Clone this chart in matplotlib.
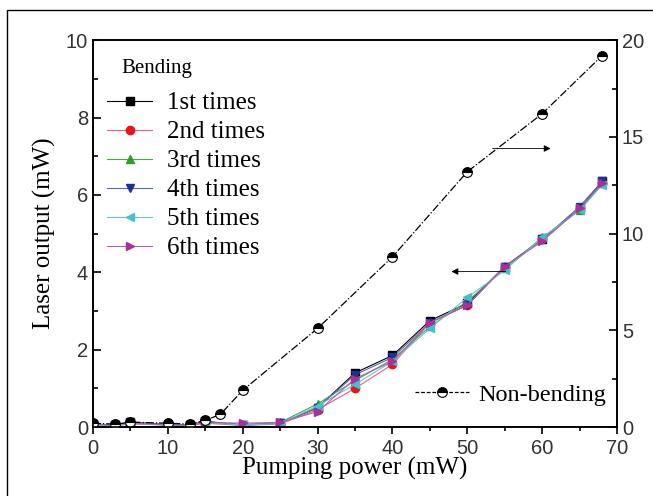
import matplotlib
matplotlib.use("Agg")
import matplotlib.pyplot as plt
from matplotlib.lines import Line2D
from matplotlib.patches import Rectangle

# bending runs (left axis, mW)
x_bend = [0, 3, 5, 10, 13, 15, 20, 25, 30, 35, 40, 45, 50, 55, 60, 65, 68]
run1 = [0.08, 0.05, 0.12, 0.06, 0.05, 0.15, 0.05, 0.10, 0.50, 1.40, 1.85, 2.75, 3.20, 4.15, 4.85, 5.65, 6.35]
run2 = [0.06, 0.04, 0.08, 0.05, 0.04, 0.10, 0.04, 0.08, 0.45, 1.00, 1.62, 2.70, 3.15, 4.15, 4.85, 5.65, 6.30]
run3 = [0.07, 0.05, 0.10, 0.06, 0.05, 0.12, 0.06, 0.12, 0.60, 1.20, 1.75, 2.60, 3.25, 4.10, 4.90, 5.60, 6.30]
run4 = [0.07, 0.05, 0.14, 0.05, 0.05, 0.13, 0.06, 0.10, 0.50, 1.35, 1.80, 2.70, 3.15, 4.15, 4.85, 5.70, 6.35]
run5 = [0.06, 0.04, 0.10, 0.05, 0.04, 0.12, 0.05, 0.09, 0.55, 1.10, 1.70, 2.55, 3.35, 4.05, 4.90, 5.60, 6.25]
run6 = [0.07, 0.05, 0.11, 0.05, 0.05, 0.12, 0.10, 0.12, 0.40, 1.25, 1.70, 2.70, 3.15, 4.15, 4.80, 5.65, 6.30]
run_labels = ["1st times", "2nd times", "3rd times", "4th times", "5th times", "6th times"]

# non-bending (right axis, mW)
x_nb = [0, 3, 5, 10, 13, 15, 17, 20, 30, 40, 50, 60, 68]
y_nb = [0.20, 0.15, 0.25, 0.20, 0.15, 0.35, 0.65, 1.90, 5.10, 8.80, 13.20, 16.20, 19.20]

serif = "Liberation Serif"
sans = "Liberation Sans"

fig = plt.figure(figsize=(6.53, 4.96), dpi=100)
ax = fig.add_axes([0.1424, 0.139, 0.8026, 0.780])
ax2 = ax.twinx()

# frame around the whole picture (cut at right/bottom)
fig.patches.append(Rectangle((7 / 653, -0.1), 1.2, 1.1 - 10 / 496, transform=fig.transFigure,
                             fill=False, lw=1.0, ec="black"))

runs = [run1, run2, run3, run4, run5, run6]
colors = ["black", "#e8141c", "#2ca02c", "#1f2f9c", "#40c0d0", "#a8309a"]
line_colors = ["black", "#e8607a", "#4aa84a", "#5a6ab8", "#60c8d8", "#b060a8"]
markers = ["s", "o", "^", "v", "<", ">"]
for y, c, lc, m, lab in zip(runs, colors, line_colors, markers, run_labels):
    ax.plot(x_bend, y, color=lc, lw=0.8, marker=m, markersize=6,
            markerfacecolor=c, markeredgecolor=c, label=lab)

ax2.plot(x_nb, y_nb, color="black", lw=0.9, ls="-.", marker="o", markersize=7,
         fillstyle="top", markerfacecolor="black", markerfacecoloralt="white",
         markeredgecolor="black", markeredgewidth=0.8, label="Non-bending")

ax.set_xlim(0, 70)
ax.set_ylim(0, 10)
ax2.set_ylim(0, 20)
ax.set_xticks(range(0, 71, 10))
ax.set_xticks(range(5, 70, 10), minor=True)
ax.set_yticks(range(0, 11, 2))
ax.set_yticks(range(1, 10, 2), minor=True)
ax2.set_yticks(range(0, 21, 5))
ax2.set_yticks([2.5, 7.5, 12.5, 17.5], minor=True)

ax.tick_params(axis="y", which="both", direction="in", width=1.2)
ax.tick_params(axis="y", which="major", length=6)
ax.tick_params(axis="y", which="minor", length=3.5)
ax.tick_params(axis="x", which="both", direction="out", width=1.2)
ax.tick_params(axis="x", which="major", length=5)
ax.tick_params(axis="x", which="minor", length=3)
ax2.tick_params(axis="y", which="both", direction="in", width=1.2)
ax2.tick_params(axis="y", which="major", length=6)
ax2.tick_params(axis="y", which="minor", length=3.5)
for a in (ax, ax2):
    for lab in a.get_xticklabels() + a.get_yticklabels():
        lab.set_fontfamily(sans)
        lab.set_fontsize(14.5)
        lab.set_color("#333333")
    for sp in a.spines.values():
        sp.set_linewidth(1.2)

ax.set_xlabel("Pumping power (mW)", family=serif, fontsize=18, labelpad=-1)
ax.set_ylabel("Laser output (mW)", family=serif, fontsize=18, labelpad=7)

# arrows pointing to the axes
ax.annotate("", xy=(61.5, 7.2), xytext=(53, 7.2),
            arrowprops=dict(arrowstyle="-|>", color="black", lw=0.6, mutation_scale=10))
ax.annotate("", xy=(47.5, 4.02), xytext=(55.5, 4.02),
            arrowprops=dict(arrowstyle="-|>", color="black", lw=0.6, mutation_scale=10))

ax.text(0.055, 0.928, "Bending", transform=ax.transAxes, family=serif, fontsize=15,
        ha="left", va="center")
ax.legend(loc="upper left", frameon=False,
          prop={"family": serif, "size": 18}, handlelength=1.8,
          labelspacing=0.26, handletextpad=0.6, borderaxespad=0.0,
          bbox_to_anchor=(0.008, 0.892))

nb_handle = Line2D([], [], color="black", lw=0.9, ls=(0, (3, 1.5)), marker="o", markersize=7,
                   fillstyle="top", markerfacecolor="black", markerfacecoloralt="white",
                   markeredgecolor="black", markeredgewidth=0.8)
ax2.legend([nb_handle], ["Non-bending"], loc="lower right", frameon=False,
           prop={"family": serif, "size": 17.5}, handlelength=2.2,
           handletextpad=0.4, borderaxespad=0.0, bbox_to_anchor=(0.998, 0.03))

fig.savefig("out.png", dpi=100)
